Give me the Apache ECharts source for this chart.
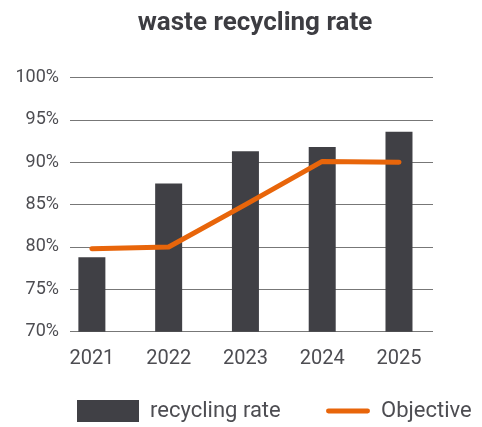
<!DOCTYPE html>
<html>
<head>
<meta charset="utf-8">
<script src="https://cdn.jsdelivr.net/npm/echarts@6/dist/echarts.min.js"></script>
<style>html,body{margin:0;padding:0;background:#fff}#c{width:482px;height:427px}</style>
</head>
<body>
<div id="c"></div>
<script>
var years = ['2021', '2022', '2023', '2024', '2025'];
var recyclingRate = [78.8, 87.5, 91.3, 91.8, 93.6];
var objective = [79.8, 80.0, 85.0, 90.1, 90.0];
var yTicks = [70, 75, 80, 85, 90, 95, 100];

var idx = years.map(function (y, i) { return i; });
var chart = echarts.init(document.getElementById('c'));
var font = 'Roboto';
chart.setOption({
  animation: false,
  title: {
    text: 'waste recycling rate',
    left: 250, textAlign: 'center', top: 5,
    textStyle: { fontFamily: font, fontWeight: 'bold', fontSize: 26, color: '#3d3d42' }
  },
  legend: [{
    data: ['recycling rate'],
    left: 77, top: 400, padding: 0,
    itemWidth: 62, itemHeight: 22, icon: 'rect',
    textStyle: { fontFamily: font, fontSize: 22, color: '#4d4d52', padding: [0, 0, 0, 6] }
  }, {
    data: ['Objective'],
    left: 326, top: 400, padding: 0,
    itemWidth: 44, itemHeight: 22,
    icon: 'path://M2,9.5 L42,9.5 A2.5,2.5 0 0 1 42,14.5 L2,14.5 A2.5,2.5 0 0 1 2,9.5 Z',
    textStyle: { fontFamily: font, fontSize: 22, color: '#4d4d52', padding: [0, 0, 0, 6] }
  }],
  grid: { left: 70, right: 49, top: 77.5, bottom: 95.3, containLabel: false },
  xAxis: {
    type: 'value',
    min: -0.285, max: 4.443,
    splitLine: { show: false },
    axisLine: { show: false },
    axisTick: { show: false },
    axisLabel: {
      customValues: idx,
      formatter: function (v) { return years[Math.round(v)]; },
      fontFamily: font, fontSize: 20, color: '#4d4d52', margin: 17
    }
  },
  yAxis: {
    type: 'value', min: 70, max: 100, interval: 5,
    axisLine: { show: false }, axisTick: { show: false },
    splitLine: { lineStyle: { color: '#777', width: 1 } },
    axisLabel: {
      customValues: yTicks,
      formatter: function (v) { return v + '%'; },
      fontFamily: font, fontSize: 18, color: '#4d4d52', margin: 11
    }
  },
  series: [{
    name: 'recycling rate', type: 'bar',
    data: recyclingRate.map(function (v, i) { return [i, v]; }),
    barWidth: 27,
    itemStyle: { color: '#404045' }
  }, {
    name: 'Objective', type: 'line',
    data: objective.map(function (v, i) { return [i, v]; }),
    symbol: 'none',
    lineStyle: { color: '#e8650a', width: 5, cap: 'round', join: 'round' },
    itemStyle: { color: '#e8650a' },
    z: 5
  }]
});
</script>
</body>
</html>
